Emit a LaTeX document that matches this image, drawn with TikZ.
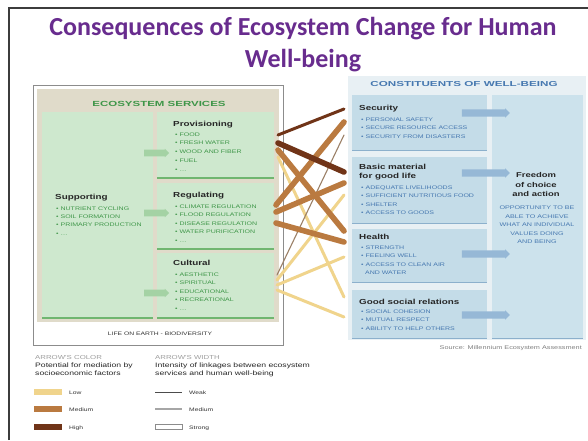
\documentclass[tikz,border=0pt]{standalone}
\usepackage{fontspec}
\usepackage{graphicx}
\setmainfont{Liberation Sans}
\newfontfamily\titlefont{Carlito}
\newfontfamily\wf[FakeStretch=1.35]{Liberation Sans}
\usetikzlibrary{shapes.arrows}
\definecolor{ttl}{RGB}{104,44,142}
\definecolor{beige}{RGB}{224,219,202}
\definecolor{grn}{RGB}{206,232,206}
\definecolor{grnline}{RGB}{112,182,112}
\definecolor{grnarrow}{RGB}{164,210,164}
\definecolor{grntxt}{RGB}{62,150,72}
\definecolor{bluebox}{RGB}{196,220,232}
\definecolor{bluecol}{RGB}{204,226,236}
\definecolor{bluebg}{RGB}{232,240,244}
\definecolor{bluetxt}{RGB}{70,120,176}
\definecolor{blueline}{RGB}{140,176,204}
\definecolor{bluearrow}{RGB}{150,184,214}
\definecolor{lowc}{RGB}{240,212,140}
\definecolor{medc}{RGB}{186,122,64}
\definecolor{highc}{RGB}{112,52,24}
\definecolor{frame}{RGB}{60,60,60}
\newcommand\mydots{\ldots}
\begin{document}
\begin{tikzpicture}[x=1pt,y=-1pt,
  rbox/.style={inner sep=0pt, outer sep=0pt, anchor=north west},
  gbox/.style={rbox, fill=grn},
  bbox/.style={rbox, fill=bluebox},
  itm/.style={inner sep=0pt, anchor=base west, font=\wf\fontsize{5.2}{6}\selectfont},
  gitm/.style={itm, text=grntxt},
  bitm/.style={itm, text=bluetxt},
  ghead/.style={inner sep=0pt, anchor=base west, font=\wf\bfseries\fontsize{7.3}{8}\selectfont, text=black!85},
  lgd/.style={inner sep=0pt, anchor=base west, font=\wf\fontsize{5}{6}\selectfont, text=black!80},
  lgdtxt/.style={inner sep=0pt, anchor=base west, font=\wf\fontsize{6.4}{7}\selectfont, text=black!85},
  lgdcap/.style={inner sep=0pt, anchor=base west, font=\wf\fontsize{5.8}{7}\selectfont, text=black!38},
  garrow/.style={single arrow, fill=grnarrow, minimum height=25pt, inner xsep=0pt, inner ysep=3.2pt, single arrow head extend=1pt, single arrow head indent=0pt},
  barrow/.style={single arrow, fill=bluearrow, minimum height=48pt, inner xsep=0pt, inner ysep=3.4pt, single arrow head extend=1pt, single arrow head indent=0pt},
  link/.style={line cap=round},
  strong/.style={line width=5.6pt},
  medium/.style={line width=3pt},
  weak/.style={line width=1.1pt}
]
\useasboundingbox (0,0) rectangle (588,440);
\fill[white] (0,0) rectangle (588,440);
% frame
\draw[frame, line width=1.4pt] (9,440) -- (9,8) -- (588,8);
% title
\node[font=\titlefont\bfseries\fontsize{26}{30}\selectfont, text=ttl, inner sep=0pt] (t1) at (303,29) {Consequences of Ecosystem Change for Human};
\node[font=\titlefont\bfseries\fontsize{26}{30}\selectfont, text=ttl, inner sep=0pt] (t2) at (303,61) {Well-being};

% ---------------- ecosystem services
\node[rbox, draw=black!45, line width=0.9pt, fill=white, minimum width=250, minimum height=260] (eco) at (33,85) {};
\node[rbox, fill=beige, minimum width=242, minimum height=233] (beig) at (37,89) {};
\node[inner sep=0pt, font=\wf\bfseries\fontsize{7.4}{8}\selectfont, text=grntxt] (esh) at (159,104) {\scalebox{1.15}[1]{ECOSYSTEM SERVICES}};
\node[gbox, minimum width=111, minimum height=206] (sup) at (42,112) {};
\node[gbox, minimum width=117, minimum height=66] (prov) at (157,112) {};
\node[gbox, minimum width=117, minimum height=66] (reg) at (157,183) {};
\node[gbox, minimum width=117, minimum height=65] (cult) at (157,253) {};
\foreach \b in {sup,prov,reg,cult}
  \draw[grnline, line width=1.5pt] (\b.south west) -- (\b.south east);
\node[ghead] (supt) at (55,199) {Supporting};
\foreach \t [count=\i] in {• NUTRIENT CYCLING,• SOIL FORMATION,• PRIMARY PRODUCTION,{• \mydots}}
  \node[gitm] (sup\i) at (56,{210+8.4*(\i-1)}) {\t};
\node[ghead] (provt) at (173,126) {Provisioning};
\foreach \t [count=\i] in {• FOOD,• FRESH WATER,• WOOD AND FIBER,• FUEL,{• \mydots}}
  \node[gitm] (prov\i) at (175,{136+8.8*(\i-1)}) {\t};
\node[ghead] (regt) at (173,197) {Regulating};
\foreach \t [count=\i] in {• CLIMATE REGULATION,• FLOOD REGULATION,• DISEASE REGULATION,• WATER PURIFICATION,{• \mydots}}
  \node[gitm] (reg\i) at (175,{208+8.5*(\i-1)}) {\t};
\node[ghead] (cultt) at (173,265) {Cultural};
\foreach \t [count=\i] in {• AESTHETIC,• SPIRITUAL,• EDUCATIONAL,• RECREATIONAL,{• \mydots}}
  \node[gitm] (cult\i) at (175,{276+8.6*(\i-1)}) {\t};
\node[garrow] (ga1) at (155,153) {};
\node[garrow] (ga2) at (155,213) {};
\node[garrow] (ga3) at (155,293) {};
\node[inner sep=0pt, font=\wf\fontsize{5}{6}\selectfont, text=black!80] (life) at (160,334) {LIFE ON EARTH - BIODIVERSITY};

% ---------------- constituents of well-being
\node[rbox, fill=bluebg, minimum width=238, minimum height=264] (cbg) at (348,76) {};
\node[inner sep=0pt, font=\wf\bfseries\fontsize{7.2}{8}\selectfont, text=bluetxt] (cwh) at (464,84) {\scalebox{1.2}[1]{CONSTITUENTS OF WELL-BEING}};
\node[rbox, fill=bluecol, minimum width=91, minimum height=243] (free) at (492,95) {};
\node[bbox, minimum width=135, minimum height=55] (sec) at (352,95) {};
\node[bbox, minimum width=135, minimum height=66] (bas) at (352,157) {};
\node[bbox, minimum width=135, minimum height=53] (hea) at (352,229) {};
\node[bbox, minimum width=135, minimum height=48] (soc) at (352,290) {};
\foreach \b in {sec,bas,hea,soc,free}
  \draw[blueline, line width=1pt] (\b.south west) -- (\b.south east);
\node[ghead] (sect) at (359,110) {Security};
\foreach \t [count=\i] in {• PERSONAL SAFETY,• SECURE RESOURCE ACCESS,• SECURITY FROM DISASTERS}
  \node[bitm] (sec\i) at (361,{121+8.5*(\i-1)}) {\t};
\node[ghead] (bast1) at (359,169) {Basic material};
\node[ghead] (bast2) at (359,178) {for good life};
\foreach \t [count=\i] in {• ADEQUATE LIVELIHOODS,• SUFFICIENT NUTRITIOUS FOOD,• SHELTER,• ACCESS TO GOODS}
  \node[bitm] (bas\i) at (361,{189+8.6*(\i-1)}) {\t};
\node[ghead] (heat) at (359,239) {Health};
\foreach \t [count=\i] in {• STRENGTH,• FEELING WELL,• ACCESS TO CLEAN AIR,{\ \ AND WATER}}
  \node[bitm] (hea\i) at (361,{249+8.6*(\i-1)}) {\t};
\node[ghead] (soct) at (359,304) {Good social relations};
\foreach \t [count=\i] in {• SOCIAL COHESION,• MUTUAL RESPECT,• ABILITY TO HELP OTHERS}
  \node[bitm] (soc\i) at (361,{313+8.6*(\i-1)}) {\t};
\node[inner sep=0pt, align=center, font=\wf\bfseries\fontsize{7}{9.8}\selectfont, text=black!85, anchor=north] (freet) at (536,172) {Freedom\\of choice\\and action};
\node[inner sep=0pt, align=center, font=\wf\fontsize{5.3}{8.5}\selectfont, text=bluetxt, anchor=north] (freei) at (537,206) {OPPORTUNITY TO BE\\ABLE TO ACHIEVE\\WHAT AN INDIVIDUAL\\VALUES DOING\\AND BEING};
\node[barrow] (ba1) at (484,113) {};
\node[barrow] (ba2) at (484,173) {};
\node[barrow] (ba3) at (484,254) {};
\node[barrow] (ba4) at (484,315) {};
\node[inner sep=0pt, anchor=base east, font=\wf\fontsize{5.4}{6}\selectfont, text=black!50] (src) at (582,349) {Source: Millennium Ecosystem Assessment};

% ---------------- linkages
\coordinate (pA) at (278,135); \coordinate (pB) at (278,143); \coordinate (pC) at (278,150); \coordinate (pD) at (278,157);
\coordinate (rA) at (276,205); \coordinate (rB) at (276,212); \coordinate (rC) at (276,223);
\coordinate (cA) at (277,275); \coordinate (cB) at (277,280); \coordinate (cC) at (277,285); \coordinate (cD) at (277,290);
\coordinate (sA) at (344,109); \coordinate (sB) at (344,122); \coordinate (sC) at (344,135);
\coordinate (bA) at (344,172); \coordinate (bB) at (344,183); \coordinate (bC) at (344,195);
\coordinate (hA) at (344,231); \coordinate (hB) at (344,242); \coordinate (hC) at (344,257);
\coordinate (gA) at (344,297); \coordinate (gB) at (344,317);
\draw[link, lowc, medium] (pD) -- (gA);
\draw[link, lowc, medium] (cB) -- (bC);
\draw[link, lowc, medium] (cC) -- (hC);
\draw[link, lowc, medium] (cD) -- (gB);
\draw[link, medc!60!black!70, weak] (cA) -- (sC);
\draw[link, medc, strong] (rA) -- (sB);
\draw[link, medc, strong] (rB) -- (bB);
\draw[link, medc, strong] (rC) -- (hB);
\draw[link, medc, strong] (pC) -- (hA);
\draw[link, highc, strong] (pB) -- (bA);
\draw[link, highc, medium] (pA) -- (sA);

% ---------------- legend
\node[lgdcap] (lc1) at (35,359) {ARROW'S COLOR};
\node[lgdtxt] (lc2) at (35,367.5) {Potential for mediation by};
\node[lgdtxt] (lc3) at (35,375) {socioeconomic factors};
\node[rbox, fill=lowc, minimum width=28, minimum height=6] (swl) at (34,389) {};
\node[rbox, fill=medc, minimum width=28, minimum height=6] (swm) at (34,406) {};
\node[rbox, fill=highc, minimum width=28, minimum height=6] (swh) at (34,424) {};
\node[lgd] (ll) at (69,394) {Low};
\node[lgd] (lm) at (69,411) {Medium};
\node[lgd] (lh) at (69,429) {High};
\node[lgdcap] (lw1) at (155,359) {ARROW'S WIDTH};
\node[lgdtxt] (lw2) at (155,367.5) {Intensity of linkages between ecosystem};
\node[lgdtxt] (lw3) at (155,375) {services and human well-being};
\coordinate (wa1) at (155,392); \coordinate (wa2) at (182,392);
\coordinate (wb1) at (155,409); \coordinate (wb2) at (182,409);
\node[rbox, draw=black!45, line width=0.6pt, fill=white, minimum width=27, minimum height=5.5] (wst) at (155,424) {};
\draw[black!70, line width=0.7pt] (wa1) -- (wa2);
\draw[black!35, line width=2.4pt] (wb1) -- (wb2);
\node[lgd] (lwk) at (189,394) {Weak};
\node[lgd] (lwm) at (189,411) {Medium};
\node[lgd] (lws) at (189,429) {Strong};
\end{tikzpicture}
\end{document}
